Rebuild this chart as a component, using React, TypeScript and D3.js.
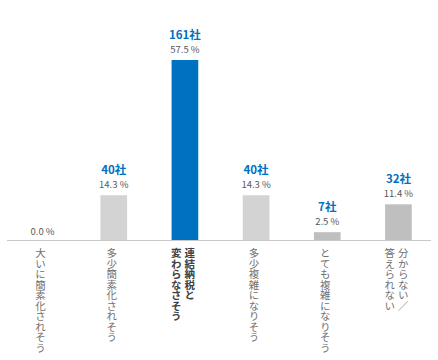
import React from "react";
import * as d3 from "d3";

const categories = ["c1", "c2", "c3", "c4", "c5", "c6"];
const labelLines: string[][] = [
  ["大いに簡素化されそう"],
  ["多少簡素化されそう"],
  ["連結納税と", "変わらなさそう"],
  ["多少複雑になりそう"],
  ["とても複雑になりそう"],
  ["分からない／", "答えられない"],
];
const counts = [0, 40, 161, 40, 7, 32];
const percents = [0.0, 14.3, 57.5, 14.3, 2.5, 11.4];
const barColors = ["#D3D3D3", "#D3D3D3", "#0070C0", "#D3D3D3", "#BFBFBF", "#BFBFBF"];
const highlight = [false, false, true, false, false, false];

const W = 438;
const H = 360;
const baseY = 240;
const FONT = "'Noto Sans CJK JP', 'Noto Sans', sans-serif";

export default function App() {
  const x = d3
    .scaleBand<string>()
    .domain(categories)
    .range([7, 434])
    .paddingInner(0.625)
    .paddingOuter(0.3125);
  const y = d3.scaleLinear().domain([0, 57.5]).range([baseY, 60]);

  return (
    <div style={{ position: "absolute", left: 0, top: 0 }}>
      <svg width={W} height={H} style={{ display: "block", fontFamily: FONT }}>
        <rect width={W} height={H} fill="#fff" />
        {categories.map((c, i) => {
          const bx = x(c)!;
          const bw = x.bandwidth();
          const top = y(percents[i]);
          const cx = bx + bw / 2;
          return (
            <g key={c}>
              {percents[i] > 0 && (
                <rect x={bx} y={top} width={bw} height={baseY - top} fill={barColors[i]} />
              )}
              <text
                x={cx}
                y={top - (percents[i] > 0 ? 7 : 5)}
                textAnchor="middle"
                fontSize={9.5}
                fill="#595959"
              >
                {percents[i].toFixed(1) + " %"}
              </text>
              {counts[i] > 0 && (
                <text
                  x={cx}
                  y={top - 21}
                  textAnchor="middle"
                  fontSize={11.5}
                  fontWeight="bold"
                  fill="#0070C0"
                >
                  {counts[i] + "社"}
                </text>
              )}
              {labelLines[i].map((line, j) => {
                const n = labelLines[i].length;
                const colX = cx - 2 + ((n - 1) / 2 - j) * 13.5;
                return (
                  <text
                    key={j}
                    x={colX}
                    y={248}
                    style={{ writingMode: "vertical-rl" as any }}
                    fontSize={10.5}
                    fontWeight={highlight[i] ? "bold" : "normal"}
                    fill={highlight[i] ? "#404040" : "#707070"}
                  >
                    {line}
                  </text>
                );
              })}
            </g>
          );
        })}
        <line x1={7} x2={431} y1={baseY + 0.5} y2={baseY + 0.5} stroke="#C8C8C8" strokeWidth={1} />
      </svg>
    </div>
  );
}
